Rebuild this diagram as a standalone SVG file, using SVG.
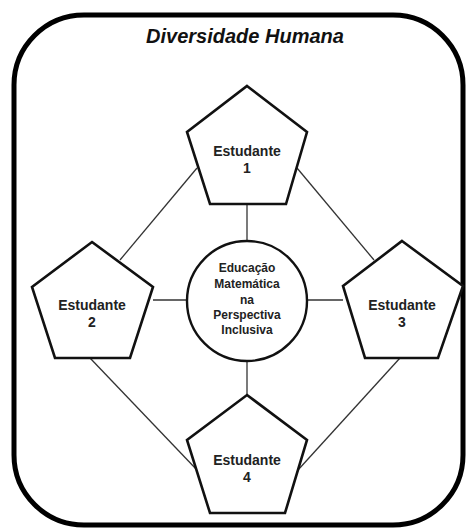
<svg xmlns="http://www.w3.org/2000/svg" width="467" height="529" viewBox="0 0 467 529">
<style>
.frame{fill:#fff;stroke:#000;stroke-width:5}
.pent{fill:#fff;stroke:#111;stroke-width:2.6;stroke-linejoin:miter}
.conn{stroke:#333;stroke-width:1.3;fill:none}
.lbl{font-family:"Liberation Sans",Arial,sans-serif;font-weight:bold;font-size:14px;fill:#222;text-anchor:middle}
.clbl{font-family:"Liberation Sans",Arial,sans-serif;font-weight:bold;font-size:12px;fill:#222;text-anchor:middle}
.title{font-family:"Liberation Sans",Arial,sans-serif;font-weight:bold;font-style:italic;font-size:20px;fill:#111;text-anchor:middle}
</style>
<rect width="467" height="529" fill="#fff"/>
<g id="frame">
<rect class="frame" x="14" y="15" width="449" height="510" rx="70" ry="70"/>
<text class="title" x="245" y="43">Diversidade Humana</text>
</g>
<g id="connectors">
<line class="conn" x1="247" y1="204" x2="247" y2="241"/>
<line class="conn" x1="247" y1="361" x2="247" y2="395"/>
<line class="conn" x1="153" y1="300" x2="187" y2="300"/>
<line class="conn" x1="307" y1="300" x2="343" y2="300"/>
<line class="conn" x1="197" y1="168" x2="120" y2="260"/>
<line class="conn" x1="297" y1="168" x2="374" y2="260"/>
<line class="conn" x1="90" y1="358" x2="197" y2="470"/>
<line class="conn" x1="400" y1="358" x2="298" y2="470"/>
</g>
<g id="center">
<circle cx="247" cy="301" r="60" fill="#fff" stroke="#111" stroke-width="2.4"/>
<text class="clbl" x="247" y="272">Educação</text>
<text class="clbl" x="247" y="288">Matemática</text>
<text class="clbl" x="247" y="304">na</text>
<text class="clbl" x="247" y="319">Perspectiva</text>
<text class="clbl" x="247" y="334">Inclusiva</text>
</g>
<g id="estudante1">
<polygon class="pent" points="247,86 307,132 286,204 210,204 187,132"/>
<text class="lbl" x="247" y="156">Estudante</text>
<text class="lbl" x="247" y="173">1</text>
</g>
<g id="estudante2">
<polygon class="pent" points="92,242 153,287 130,358 55,358 32,287"/>
<text class="lbl" x="92" y="310">Estudante</text>
<text class="lbl" x="92" y="327">2</text>
</g>
<g id="estudante3">
<polygon class="pent" points="402,241 463,286 438,358 365,358 343,286"/>
<text class="lbl" x="402" y="310">Estudante</text>
<text class="lbl" x="402" y="327">3</text>
</g>
<g id="estudante4">
<polygon class="pent" points="247,395 307,440 285,513 210,513 187,440"/>
<text class="lbl" x="247" y="465">Estudante</text>
<text class="lbl" x="247" y="482">4</text>
</g>
</svg>
